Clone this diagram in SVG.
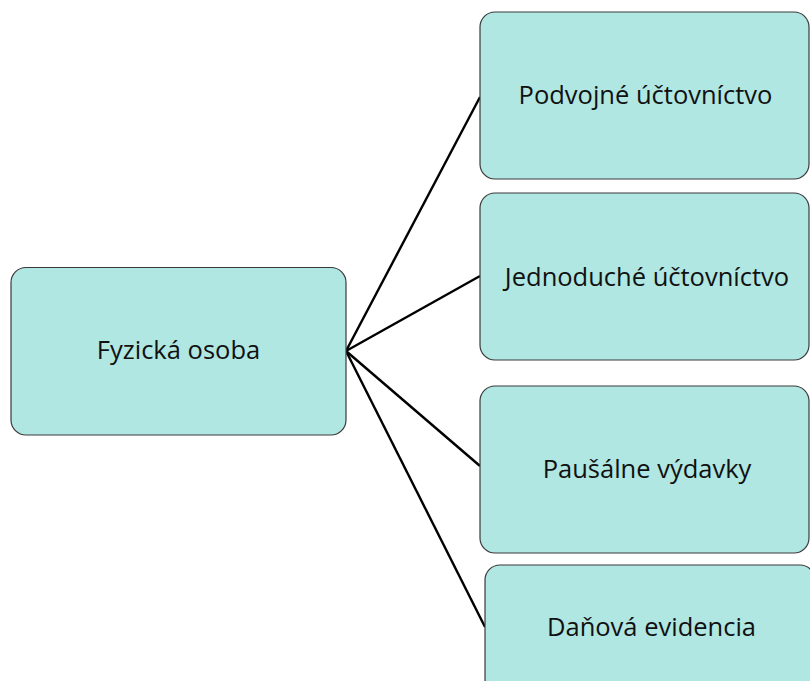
<svg xmlns="http://www.w3.org/2000/svg" width="810" height="681" viewBox="0 0 810 681">
<style>
.node rect{fill:#b0e7e2;stroke:#3a3a3a;stroke-width:1.2}
.node text{font-family:"Open Sans","Noto Sans","DejaVu Sans",sans-serif;font-size:25.5px;fill:#111;text-anchor:middle}
.edges line{stroke:#000;stroke-width:2.4}
</style>
<rect width="810" height="681" fill="#fff"/>
<g class="edges" id="connectors">
<line x1="346" y1="351" x2="480" y2="97"/>
<line x1="346" y1="351" x2="480" y2="276"/>
<line x1="346" y1="351" x2="480" y2="466"/>
<line x1="346" y1="351" x2="485" y2="627"/>
</g>
<g class="node" id="fyzicka-osoba">
<rect x="11" y="267.5" width="335" height="167.5" rx="15"/>
<text x="178.5" y="359">Fyzická osoba</text>
</g>
<g class="node" id="podvojne">
<rect x="480" y="12" width="329" height="167" rx="15"/>
<text x="645.5" y="104">Podvojné účtovníctvo</text>
</g>
<g class="node" id="jednoduche">
<rect x="480" y="193" width="329" height="167" rx="15"/>
<text x="647" y="286">Jednoduché účtovníctvo</text>
</g>
<g class="node" id="pausalne">
<rect x="480" y="386" width="329" height="167" rx="15"/>
<text x="647" y="478">Paušálne výdavky</text>
</g>
<g class="node" id="danova">
<rect x="485" y="565" width="330" height="167" rx="15"/>
<text x="651.5" y="636">Daňová evidencia</text>
</g>
</svg>
